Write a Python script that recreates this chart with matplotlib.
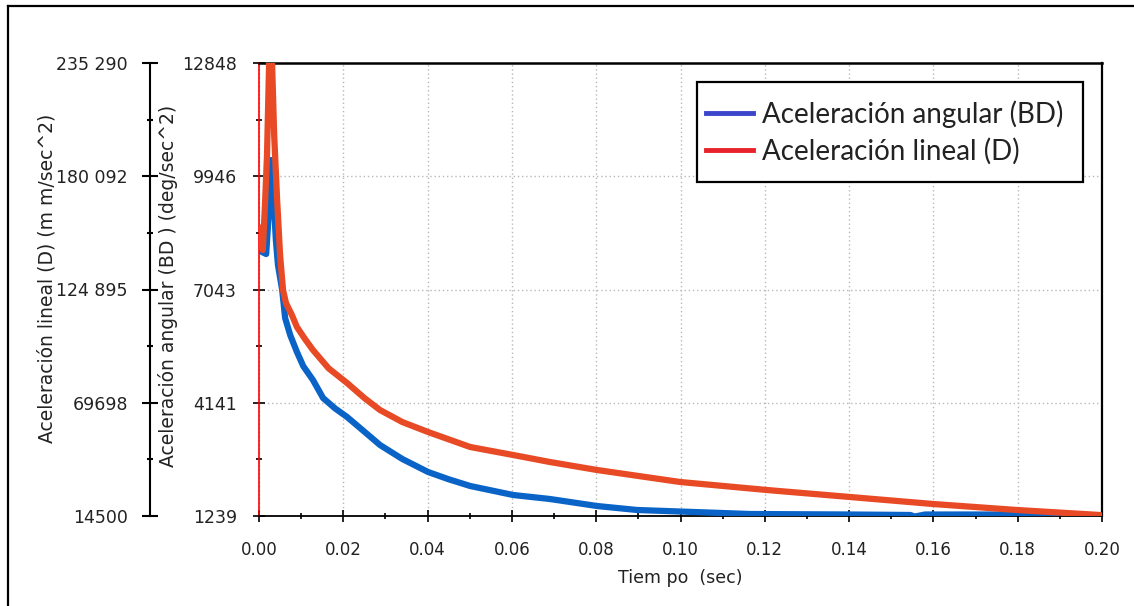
import matplotlib
matplotlib.use("Agg")
import matplotlib.pyplot as plt
from matplotlib.lines import Line2D
from matplotlib.patches import Rectangle

# ---- data ----
t_ang = [0.0, 0.0007, 0.0017, 0.0024, 0.0028, 0.0033, 0.0040, 0.0045, 0.0055, 0.0062,
         0.0074, 0.0090, 0.0105, 0.0128, 0.0152, 0.0180, 0.0209, 0.0250, 0.0287, 0.0340,
         0.0401, 0.0450, 0.0501, 0.0603, 0.0690, 0.0802, 0.0897, 0.1030, 0.1165, 0.1402,
         0.1545, 0.1556, 0.1580, 0.1924]
ang = [8261, 8005, 7953, 9132, 10362, 9722, 8312, 7671, 7031, 6313,
       5877, 5442, 5080, 4724, 4263, 4000, 3776, 3400, 3059, 2700,
       2367, 2180, 2008, 1777, 1675, 1495, 1393, 1342, 1290, 1277,
       1265, 1225, 1277, 1277]

t_lin = [0.0, 0.0005, 0.0009, 0.0014, 0.0019, 0.0024, 0.0031, 0.0036, 0.0043, 0.0050,
         0.0057, 0.0064, 0.0078, 0.0090, 0.0110, 0.0128, 0.0165, 0.0209, 0.0250, 0.0287,
         0.0340, 0.0401, 0.0501, 0.0603, 0.0690, 0.0802, 0.0999, 0.1205, 0.1402, 0.1599,
         0.1798, 0.1995, 0.2000]
lin = [154871, 149022, 144148, 165107, 190451, 235290, 235290, 200199, 168518, 141711,
       124652, 118316, 112467, 106619, 100500, 95408, 86500, 79324, 72000, 66164,
       60300, 55442, 48131, 44231, 40820, 36920, 31072, 27172, 23761, 20349,
       17424, 14987, 14500]

x_ticks = [0.00, 0.02, 0.04, 0.06, 0.08, 0.10, 0.12, 0.14, 0.16, 0.18, 0.20]
x_minor = [0.01, 0.03, 0.05, 0.07, 0.09, 0.11, 0.13, 0.15, 0.17, 0.19]
ang_ticks = [1239, 4141, 7043, 9946, 12848]
ang_labels = ["1239", "4141", "7043", "9946", "12848"]
lin_ticks = [14500, 69698, 124895, 180092, 235290]
lin_labels = ["14500", "69698", "124 895", "180 092", "235 290"]

label_ang = "Aceleración angular (BD)"
label_lin = "Aceleración lineal (D)"

plt.rcParams['font.family'] = ['DejaVu Sans']

W, H = 1134, 606
fig = plt.figure(figsize=(W / 100, H / 100), dpi=100)
L, R, B, T = 259, 1102, 516, 63
ax = fig.add_axes([L / W, 1 - B / H, (R - L) / W, (B - T) / H])

blue = "#0A64C8"
red = "#E84A25"
tc = '#222222'

ax.plot(t_ang, ang, color=blue, lw=4.5, zorder=3)
ax.set_xlim(0, 0.2)
ax.set_ylim(ang_ticks[0], ang_ticks[-1])

ax2 = ax.twinx()
ax2.plot(t_lin, lin, color=red, lw=4.5, zorder=4)
ax2.set_ylim(lin_ticks[0], lin_ticks[-1])

# inner (angular) axis
ax.set_xticks(x_ticks)
ax.set_xticklabels([f"{v:.2f}" for v in x_ticks])
ax.set_xticks(x_minor, minor=True)
ax.set_yticks(ang_ticks)
ax.set_yticklabels(ang_labels)
ax.set_yticks([(a + b) / 2 for a, b in zip(ang_ticks[:-1], ang_ticks[1:])], minor=True)
ax.tick_params(axis='both', which='major', direction='inout', length=8, width=1.2,
               labelsize=12, labelcolor=tc)
ax.tick_params(axis='y', which='major', labelsize=12.5, pad=12)
ax.tick_params(axis='both', which='minor', direction='inout', length=5, width=1.2)
ax.tick_params(axis='x', which='major', pad=14)
ax.grid(True, which='major', color='#b8b8b8', linestyle=(0, (1, 2)), linewidth=1)
ax.set_axisbelow(True)
for s in ['top', 'right', 'bottom']:
    ax.spines[s].set_color('black')
ax.spines['top'].set_linewidth(1.8)
ax.spines['right'].set_linewidth(1.6)
ax.spines['bottom'].set_linewidth(1.3)
ax.spines['left'].set_color('#FF0000')
ax.spines['left'].set_linewidth(1.2)
ax.set_xlabel("Tiem po  (sec)", fontsize=12.5, color=tc, labelpad=7)
ax.set_ylabel("Aceleración angular (BD ) (deg/sec^2)", fontsize=13.5, color=tc)
ax.yaxis.set_label_coords((178 - L) / (R - L), (B - 286) / (B - T))

# outer (linear) axis
ax2.yaxis.tick_left()
ax2.yaxis.set_label_position('left')
for s in ['top', 'right', 'bottom']:
    ax2.spines[s].set_visible(False)
ax2.spines['left'].set_position(('axes', (150 - L) / (R - L)))
ax2.spines['left'].set_color('black')
ax2.spines['left'].set_linewidth(1.5)
ax2.set_yticks(lin_ticks)
ax2.set_yticklabels(lin_labels)
ax2.set_yticks([(a + b) / 2 for a, b in zip(lin_ticks[:-1], lin_ticks[1:])], minor=True)
ax2.tick_params(axis='y', which='major', direction='inout', length=12, width=1.5,
                labelsize=12.5, labelcolor=tc, pad=10)
ax2.tick_params(axis='y', which='minor', direction='inout', length=5, width=1.5)
ax2.set_ylabel("Aceleración lineal (D) (m m/sec^2)", fontsize=13.5, color=tc)
ax2.yaxis.set_label_coords((57 - L) / (R - L), (B - 278) / (B - T))

# legend box + legend (frameless, positioned inside the box)
box = Rectangle((697 / W, 1 - 182 / H), (1083 - 697) / W, 100 / H,
                transform=fig.transFigure, facecolor='white', edgecolor='black',
                lw=1.6, zorder=4.5, clip_on=False)
ax2.add_patch(box)
handles = [Line2D([], [], color="#3C46CC", lw=3.5), Line2D([], [], color="#E8222A", lw=3.5)]
leg = ax2.legend(handles, [label_ang, label_lin], loc='upper left',
                 bbox_to_anchor=(706 / W, 1 - 100 / H), bbox_transform=fig.transFigure,
                 frameon=False, borderaxespad=0, borderpad=0,
                 handlelength=1.7, handletextpad=0.32, labelspacing=0.36,
                 prop={'family': 'Lato', 'size': 20})
leg.set_zorder(5)
for txt in leg.get_texts():
    txt.set_color(tc)

# figure border
fig.add_artist(Line2D([8 / W, 8 / W], [0, 1 - 6 / H], color='black', lw=1.6,
                      transform=fig.transFigure))
fig.add_artist(Line2D([8 / W, 1], [1 - 6 / H, 1 - 6 / H], color='black', lw=1.6,
                      transform=fig.transFigure))

fig.savefig("out.png", dpi=100, facecolor='white')
